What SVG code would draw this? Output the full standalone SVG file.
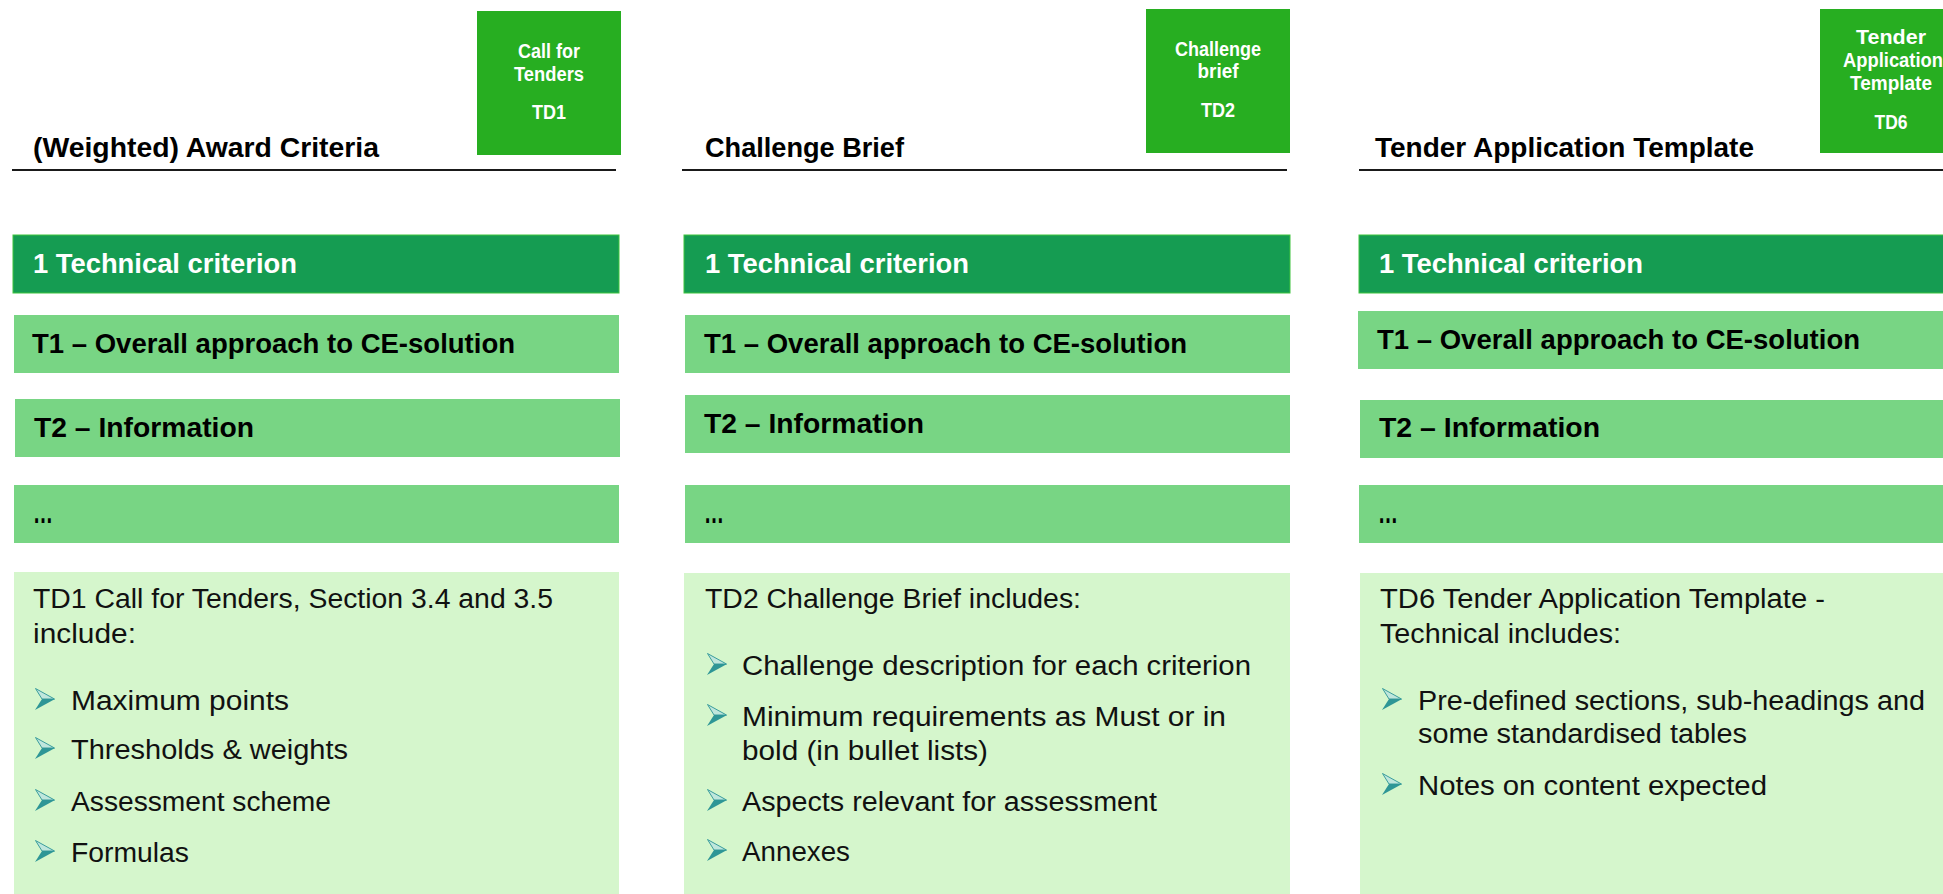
<svg xmlns="http://www.w3.org/2000/svg" xmlns:xlink="http://www.w3.org/1999/xlink" width="1943" height="894" viewBox="0 0 1943 894">
<style>
.bg{fill:#ffffff}
.doc{fill:#27ae21}
.doct{font-family:"Liberation Sans",Arial,sans-serif;font-weight:bold;font-size:19.5px;fill:#ffffff;text-anchor:middle}
.hdr{font-family:"Liberation Sans",Arial,sans-serif;font-weight:bold;font-size:28px;fill:#000000}
.rule{stroke:#1a1a1a;stroke-width:2}
.crit{fill:#159c52;stroke:#3fc43f;stroke-width:1}
.critt{font-family:"Liberation Sans",Arial,sans-serif;font-weight:bold;font-size:27.5px;fill:#ffffff}
.sub{fill:#78d584}
.subt{font-family:"Liberation Sans",Arial,sans-serif;font-weight:bold;font-size:27.5px;fill:#000000}
.dots{font-family:"Liberation Sans",Arial,sans-serif;font-weight:bold;font-size:32px;fill:#000000}
.info{fill:#d5f6cc}
.body{font-family:"Liberation Sans",Arial,sans-serif;font-size:27px;fill:#111111}
</style>
<defs>
<symbol id="bullet" viewBox="0 0 20 22" width="20" height="22">
<polygon points="0.5,0.5 19.5,11 7,11" fill="#bfe6dc" stroke="#3a9c9c" stroke-width="1"/>
<polygon points="7,11 20,11 0,22" fill="#2e9696"/>
</symbol>
</defs>
<rect class="bg" x="0" y="0" width="1943" height="894"/>

<g id="connectors"></g>

<!-- Column 1 -->
<g id="col1-doc">
<rect class="doc" x="477" y="11" width="144" height="144"/>
<text class="doct" x="549" y="58" textLength="62" lengthAdjust="spacingAndGlyphs">Call for</text>
<text class="doct" x="549" y="81" textLength="70" lengthAdjust="spacingAndGlyphs">Tenders</text>
<text class="doct" x="549" y="119" textLength="34" lengthAdjust="spacingAndGlyphs">TD1</text>
</g>
<g id="col1-header">
<text class="hdr" x="33" y="157" textLength="346" lengthAdjust="spacingAndGlyphs">(Weighted) Award Criteria</text>
<line class="rule" x1="12" y1="170" x2="616" y2="170"/>
</g>
<g id="col1-crit">
<rect class="crit" x="13" y="235" width="606" height="58"/>
<text class="critt" x="33" y="273" textLength="264" lengthAdjust="spacingAndGlyphs">1 Technical criterion</text>
</g>
<g id="col1-t1">
<rect class="sub" x="14" y="315" width="605" height="58"/>
<text class="subt" x="32" y="353" textLength="483" lengthAdjust="spacingAndGlyphs">T1 – Overall approach to CE-solution</text>
</g>
<g id="col1-t2">
<rect class="sub" x="15" y="399" width="605" height="58"/>
<text class="subt" x="34" y="437" textLength="220" lengthAdjust="spacingAndGlyphs">T2 – Information</text>
</g>
<g id="col1-more">
<rect class="sub" x="14" y="485" width="605" height="58"/>
<text class="dots" x="33" y="523" textLength="20" lengthAdjust="spacingAndGlyphs">…</text>
</g>
<g id="col1-info">
<rect class="info" x="14" y="572" width="605" height="322"/>
<text class="body" x="33" y="608" textLength="520" lengthAdjust="spacingAndGlyphs">TD1 Call for Tenders, Section 3.4 and 3.5</text>
<text class="body" x="33" y="643" textLength="103" lengthAdjust="spacingAndGlyphs">include:</text>
<use xlink:href="#bullet" href="#bullet" x="35" y="688"/>
<text class="body" x="71" y="710" textLength="218" lengthAdjust="spacingAndGlyphs">Maximum points</text>
<use xlink:href="#bullet" href="#bullet" x="35" y="737"/>
<text class="body" x="71" y="759" textLength="277" lengthAdjust="spacingAndGlyphs">Thresholds &amp; weights</text>
<use xlink:href="#bullet" href="#bullet" x="35" y="789"/>
<text class="body" x="71" y="811" textLength="260" lengthAdjust="spacingAndGlyphs">Assessment scheme</text>
<use xlink:href="#bullet" href="#bullet" x="35" y="840"/>
<text class="body" x="71" y="862" textLength="118" lengthAdjust="spacingAndGlyphs">Formulas</text>
</g>

<!-- Column 2 -->
<g id="col2-doc">
<rect class="doc" x="1146" y="9" width="144" height="144"/>
<text class="doct" x="1218" y="56" textLength="86" lengthAdjust="spacingAndGlyphs">Challenge</text>
<text class="doct" x="1218" y="78" textLength="41" lengthAdjust="spacingAndGlyphs">brief</text>
<text class="doct" x="1218" y="117" textLength="34" lengthAdjust="spacingAndGlyphs">TD2</text>
</g>
<g id="col2-header">
<text class="hdr" x="705" y="157" textLength="199" lengthAdjust="spacingAndGlyphs">Challenge Brief</text>
<line class="rule" x1="682" y1="170" x2="1287" y2="170"/>
</g>
<g id="col2-crit">
<rect class="crit" x="684" y="235" width="606" height="58"/>
<text class="critt" x="705" y="273" textLength="264" lengthAdjust="spacingAndGlyphs">1 Technical criterion</text>
</g>
<g id="col2-t1">
<rect class="sub" x="685" y="315" width="605" height="58"/>
<text class="subt" x="704" y="353" textLength="483" lengthAdjust="spacingAndGlyphs">T1 – Overall approach to CE-solution</text>
</g>
<g id="col2-t2">
<rect class="sub" x="685" y="395" width="605" height="58"/>
<text class="subt" x="704" y="433" textLength="220" lengthAdjust="spacingAndGlyphs">T2 – Information</text>
</g>
<g id="col2-more">
<rect class="sub" x="685" y="485" width="605" height="58"/>
<text class="dots" x="704" y="523" textLength="20" lengthAdjust="spacingAndGlyphs">…</text>
</g>
<g id="col2-info">
<rect class="info" x="684" y="573" width="606" height="321"/>
<text class="body" x="705" y="608" textLength="376" lengthAdjust="spacingAndGlyphs">TD2 Challenge Brief includes:</text>
<use xlink:href="#bullet" href="#bullet" x="707" y="653"/>
<text class="body" x="742" y="675" textLength="509" lengthAdjust="spacingAndGlyphs">Challenge description for each criterion</text>
<use xlink:href="#bullet" href="#bullet" x="707" y="704"/>
<text class="body" x="742" y="726" textLength="484" lengthAdjust="spacingAndGlyphs">Minimum requirements as Must or in</text>
<text class="body" x="742" y="760" textLength="246" lengthAdjust="spacingAndGlyphs">bold (in bullet lists)</text>
<use xlink:href="#bullet" href="#bullet" x="707" y="789"/>
<text class="body" x="742" y="811" textLength="415" lengthAdjust="spacingAndGlyphs">Aspects relevant for assessment</text>
<use xlink:href="#bullet" href="#bullet" x="707" y="839"/>
<text class="body" x="742" y="861" textLength="108" lengthAdjust="spacingAndGlyphs">Annexes</text>
</g>

<!-- Column 3 -->
<g id="col3-doc">
<rect class="doc" x="1820" y="9" width="144" height="144"/>
<text class="doct" x="1891" y="44" textLength="70" lengthAdjust="spacingAndGlyphs">Tender</text>
<text class="doct" x="1893" y="67" textLength="100" lengthAdjust="spacingAndGlyphs">Application</text>
<text class="doct" x="1891" y="90" textLength="82" lengthAdjust="spacingAndGlyphs">Template</text>
<text class="doct" x="1891" y="129" textLength="33" lengthAdjust="spacingAndGlyphs">TD6</text>
</g>
<g id="col3-header">
<text class="hdr" x="1375" y="157" textLength="379" lengthAdjust="spacingAndGlyphs">Tender Application Template</text>
<line class="rule" x1="1359" y1="170" x2="1943" y2="170"/>
</g>
<g id="col3-crit">
<rect class="crit" x="1359" y="235" width="606" height="58"/>
<text class="critt" x="1379" y="273" textLength="264" lengthAdjust="spacingAndGlyphs">1 Technical criterion</text>
</g>
<g id="col3-t1">
<rect class="sub" x="1358" y="311" width="606" height="58"/>
<text class="subt" x="1377" y="349" textLength="483" lengthAdjust="spacingAndGlyphs">T1 – Overall approach to CE-solution</text>
</g>
<g id="col3-t2">
<rect class="sub" x="1360" y="400" width="606" height="58"/>
<text class="subt" x="1379" y="437" textLength="221" lengthAdjust="spacingAndGlyphs">T2 – Information</text>
</g>
<g id="col3-more">
<rect class="sub" x="1359" y="485" width="606" height="58"/>
<text class="dots" x="1378" y="523" textLength="20" lengthAdjust="spacingAndGlyphs">…</text>
</g>
<g id="col3-info">
<rect class="info" x="1360" y="573" width="606" height="321"/>
<text class="body" x="1380" y="608" textLength="445" lengthAdjust="spacingAndGlyphs">TD6 Tender Application Template -</text>
<text class="body" x="1380" y="643" textLength="241" lengthAdjust="spacingAndGlyphs">Technical includes:</text>
<use xlink:href="#bullet" href="#bullet" x="1382" y="688"/>
<text class="body" x="1418" y="710" textLength="507" lengthAdjust="spacingAndGlyphs">Pre-defined sections, sub-headings and</text>
<text class="body" x="1418" y="743" textLength="329" lengthAdjust="spacingAndGlyphs">some standardised tables</text>
<use xlink:href="#bullet" href="#bullet" x="1382" y="773"/>
<text class="body" x="1418" y="795" textLength="349" lengthAdjust="spacingAndGlyphs">Notes on content expected</text>
</g>
</svg>
